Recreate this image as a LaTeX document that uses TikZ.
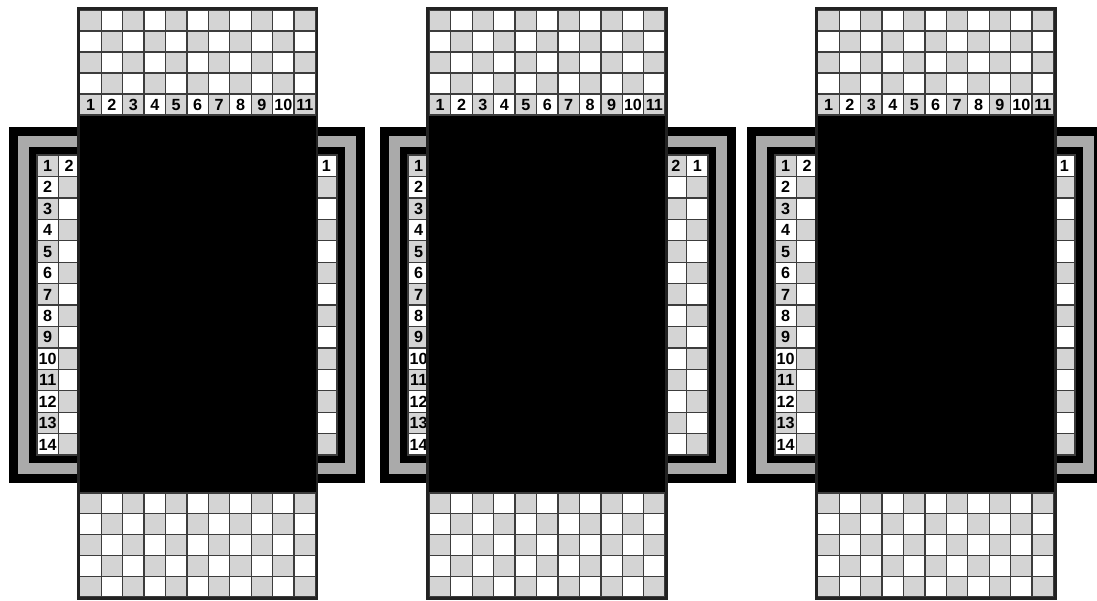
\documentclass[tikz,border=0pt]{standalone}
\usepackage{fontspec}
\setmainfont{Liberation Sans}
\definecolor{cellgray}{RGB}{212,212,212}
\definecolor{bandgray}{RGB}{170,170,170}
\definecolor{cellline}{RGB}{60,60,60}
\definecolor{edgedark}{RGB}{34,34,34}
\usetikzlibrary{positioning}

\begin{document}
\begin{tikzpicture}[
  x=0.02cm, y=-0.02cm,
  num/.style={font=\fontsize{9.2}{10}\selectfont\bfseries, inner sep=0pt, text height=6.6pt, text depth=0pt, text=black},
  sq/.style={draw=cellline, line width=0.75pt}
]
  \useasboundingbox (0,0) rectangle (1097,600);

  %% Side boards: frame and 14x14 grid
  \foreach \gx/\p in {37/1, 408/2, 775/3} {
    \fill[black]    (\gx-28,127) rectangle (\gx+327.6,482.6);
    \fill[bandgray] (\gx-19,136) rectangle (\gx+318.6,473.6);
    \fill[black]    (\gx-8,147)  rectangle (\gx+307.6,462.6);
    \foreach \r in {1,...,14} {
      \foreach \c in {1,...,14} {
        \pgfmathtruncatemacro\k{mod(\r+\c,2)}
        \ifnum\k=0 \def\cc{cellgray}\else\def\cc{white}\fi
        \draw[sq, fill=\cc] ({\gx+(\c-1)*21.43},{155+(\r-1)*21.43}) rectangle ++(21.43,21.43);
      }
      \node[num] (row\p-\r) at ({\gx+10.7},{155+(\r-0.5)*21.43}) {\r};
    }
  }

  %% Column labels left visible beside the covers
  \node[num] (colA-2)  at ({37+1.5*21.43},165.7)   {2};
  \node[num] (colA-1)  at ({37+13.5*21.43},165.7)  {1};
  \node[num] (colB-2)  at ({408+12.5*21.43},165.7) {2};
  \node[num] (colB-1)  at ({408+13.5*21.43},165.7) {1};
  \node[num] (colC-2)  at ({775+1.5*21.43},165.7)  {2};
  \node[num] (colC-1)  at ({775+13.5*21.43},165.7) {1};

  %% Covers: black middle with checkered strips above and below
  \foreach \sx/\p in {79.8/1, 429.4/2, 817.8/3} {
    \fill[black] (\sx,115) rectangle (\sx+235.7,493);
    \foreach \r in {1,...,5} {
      \foreach \c in {1,...,11} {
        \pgfmathtruncatemacro\k{mod(\r+\c,2)}
        \ifnum\k=0 \def\cc{cellgray}\else\def\cc{white}\fi
        \draw[sq, fill=\cc] ({\sx+(\c-1)*21.43},{10+(\r-1)*21}) rectangle ++(21.43,21);
        \draw[sq, fill=\cc] ({\sx+(\c-1)*21.43},{493+(\r-1)*20.8}) rectangle ++(21.43,20.8);
      }
    }
    \foreach \c in {1,...,11}
      \node[num] (top\p-\c) at ({\sx+(\c-0.5)*21.43},104.5) {\c};
    \draw[edgedark, line width=1.7pt] (\sx-1.5,8.5) rectangle (\sx+237.2,598.5);
  }
\end{tikzpicture}
\end{document}
